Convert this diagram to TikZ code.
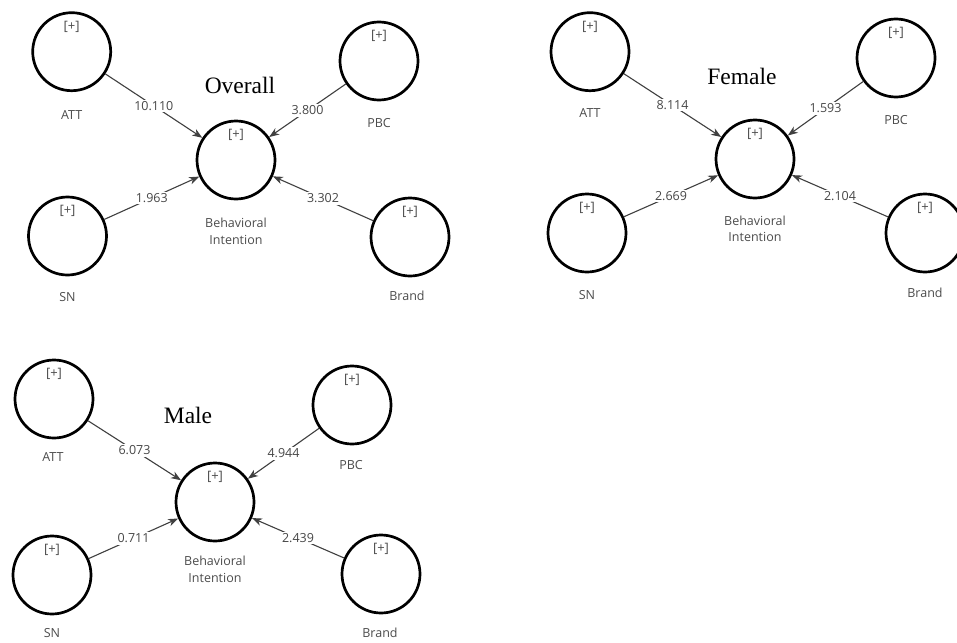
\documentclass[tikz,border=0pt]{standalone}
\usepackage{fontspec}
\setmainfont{Liberation Serif}
\newfontfamily\uifont{Open Sans}
\usetikzlibrary{arrows.meta}
\begin{document}
\begin{tikzpicture}[x=1pt,y=-1pt,
  lv/.style={circle, draw=black, line width=2.7pt, minimum size=78pt, inner sep=0pt, fill=white,
    label={[plusmark, yshift=25pt]center:{[+]}}},
  plusmark/.style={font=\uifont\fontsize{13}{13}\selectfont, text=black!70, inner sep=0pt},
  path/.style={draw=black!75, line width=1.1pt, -{Stealth[length=10pt,width=7.5pt,inset=3pt]}},
  coef/.style={fill=white, inner sep=1.5pt, font=\uifont\fontsize{12.5}{12.5}\selectfont, text=black!72},
  lvname/.style={font=\uifont\fontsize{12.5}{16.5}\selectfont, text=black!70, align=center, inner sep=0pt},
  grouptitle/.style={font=\fontsize{23.5}{23.5}\selectfont, anchor=base, inner sep=0pt}
]
\fill[white] (0,0) rectangle (957,642);
\useasboundingbox (0,0) rectangle (957,642);

% ---------- Overall ----------
\node[grouptitle] (oT) at (240,93) {Overall};
\node[lv] (oATT) at (71.7,51.7) {};
\node[lv] (oPBC) at (379,61) {};
\node[lv] (oBI) at (236,160) {};
\node[lv] (oSN) at (67.5,236) {};
\node[lv] (oBrand) at (410,237) {};
\node[lvname] (oATTn) at (71.7,115) {ATT};
\node[lvname] (oPBCn) at (379,123) {PBC};
\node[lvname] (oBIn) at (236,231.5) {Behavioral\\Intention};
\node[lvname] (oSNn) at (67.5,297) {SN};
\node[lvname] (oBrandn) at (407,296) {Brand};
\draw[path] (oATT) -- node[coef] {10.110} (oBI);
\draw[path] (oPBC) -- node[coef] {3.800} (oBI);
\draw[path] (oSN) -- node[coef] {1.963} (oBI);
\draw[path] (oBrand) -- node[coef] {3.302} (oBI);

% ---------- Female ----------
\node[grouptitle] (fT) at (742,84) {Female};
\node[lv] (fATT) at (590,51.7) {};
\node[lv] (fPBC) at (896,58) {};
\node[lv] (fBI) at (755,159) {};
\node[lv] (fSN) at (587,233) {};
\node[lv] (fBrand) at (925,233) {};
\node[lvname] (fATTn) at (590,113) {ATT};
\node[lvname] (fPBCn) at (896,120) {PBC};
\node[lvname] (fBIn) at (755,229) {Behavioral\\Intention};
\node[lvname] (fSNn) at (587,295) {SN};
\node[lvname] (fBrandn) at (925,293) {Brand};
\draw[path] (fATT) -- node[coef] {8.114} (fBI);
\draw[path] (fPBC) -- node[coef] {1.593} (fBI);
\draw[path] (fSN) -- node[coef] {2.669} (fBI);
\draw[path] (fBrand) -- node[coef] {2.104} (fBI);

% ---------- Male ----------
\node[grouptitle] (mT) at (188,423) {Male};
\node[lv] (mATT) at (54,399) {};
\node[lv] (mPBC) at (352,405) {};
\node[lv] (mBI) at (215,502) {};
\node[lv] (mSN) at (52,575) {};
\node[lv] (mBrand) at (381,574) {};
\node[lvname] (mATTn) at (53,457) {ATT};
\node[lvname] (mPBCn) at (351,465) {PBC};
\node[lvname] (mBIn) at (215,569.5) {Behavioral\\Intention};
\node[lvname] (mSNn) at (52,633) {SN};
\node[lvname] (mBrandn) at (380,633) {Brand};
\draw[path] (mATT) -- node[coef] {6.073} (mBI);
\draw[path] (mPBC) -- node[coef] {4.944} (mBI);
\draw[path] (mSN) -- node[coef] {0.711} (mBI);
\draw[path] (mBrand) -- node[coef] {2.439} (mBI);
\end{tikzpicture}
\end{document}
